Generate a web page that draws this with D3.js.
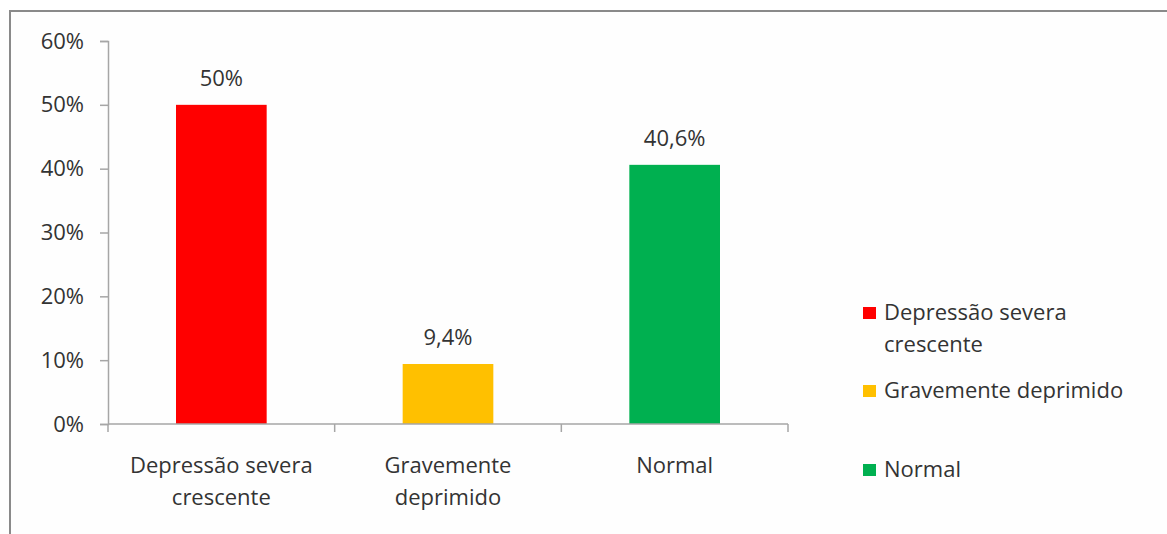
<!DOCTYPE html>
<html>
<head>
<meta charset="utf-8">
<script src="https://cdn.jsdelivr.net/npm/d3@7"></script>
<style>
  html, body { margin: 0; padding: 0; background: #fff; }
  svg { display: block; font-family: "Open Sans", Lato, sans-serif; }
</style>
</head>
<body>
<svg id="chart" width="1167" height="534"></svg>
<script>
const categories = ["Depressão severa crescente", "Gravemente deprimido", "Normal"];
const categoryLines = [["Depressão severa", "crescente"], ["Gravemente", "deprimido"], ["Normal"]];
const legendLines = [["Depressão severa", "crescente"], ["Gravemente deprimido"], ["Normal"]];
const values = [50, 9.4, 40.6];
const valueLabels = ["50%", "9,4%", "40,6%"];
const colors = ["#ff0000", "#ffc000", "#00b050"];
const yTicks = [0, 10, 20, 30, 40, 50, 60];

const svg = d3.select("#chart");
const textColor = "#333333";
const axisColor = "#a6a6a6";
const fontSize = "22px";

// outer frame, running off the right and bottom edges
svg.append("rect")
  .attr("x", 10).attr("y", 11)
  .attr("width", 1200).attr("height", 600)
  .attr("fill", "#fefefe")
  .attr("stroke", "#8a8a8a").attr("stroke-width", 2);

const plot = { left: 108, right: 788, top: 41, bottom: 424 };

const x = d3.scaleBand()
  .domain(categories)
  .range([plot.left, plot.right])
  .paddingInner(0.6).paddingOuter(0.3);

const y = d3.scaleLinear().domain([0, 60]).range([plot.bottom, plot.top]);

// y axis
const yAxis = d3.axisLeft(y)
  .tickValues(yTicks)
  .tickSize(8)
  .tickPadding(16)
  .tickFormat(d => d + "%");
const gy = svg.append("g").attr("transform", `translate(${plot.left},0)`).call(yAxis);
gy.attr("font-family", null).attr("font-size", null);
gy.select(".domain").attr("stroke", axisColor).attr("stroke-width", 1.5);
gy.selectAll(".tick line").attr("stroke", axisColor).attr("stroke-width", 1.5);
gy.selectAll(".tick text")
  .attr("fill", textColor)
  .style("font-size", fontSize);

// bars
svg.append("g").selectAll("rect")
  .data(values)
  .join("rect")
  .attr("x", (d, i) => x(categories[i]))
  .attr("width", x.bandwidth())
  .attr("y", d => y(d))
  .attr("height", d => y(0) - y(d))
  .attr("fill", (d, i) => colors[i]);

// x axis with ticks at category boundaries
const boundaries = d3.range(categories.length + 1).map(i => plot.left + i * (plot.right - plot.left) / categories.length);
const gx = svg.append("g");
gx.append("line")
  .attr("x1", plot.left).attr("x2", plot.right)
  .attr("y1", plot.bottom).attr("y2", plot.bottom)
  .attr("stroke", axisColor).attr("stroke-width", 1.5);
gx.selectAll("line.tick")
  .data(boundaries)
  .join("line")
  .attr("class", "tick")
  .attr("x1", d => d).attr("x2", d => d)
  .attr("y1", plot.bottom).attr("y2", plot.bottom + 8)
  .attr("stroke", axisColor).attr("stroke-width", 1.5);

// category labels
categories.forEach((c, i) => {
  const cx = x(c) + x.bandwidth() / 2;
  const t = gx.append("text")
    .attr("x", cx).attr("y", 473)
    .attr("text-anchor", "middle")
    .attr("fill", textColor)
    .style("font-size", fontSize);
  categoryLines[i].forEach((line, j) => {
    t.append("tspan").attr("x", cx).attr("dy", j === 0 ? 0 : 32).text(line);
  });
});

// value labels
svg.append("g").selectAll("text")
  .data(values)
  .join("text")
  .attr("x", (d, i) => x(categories[i]) + x.bandwidth() / 2)
  .attr("y", d => y(d) - 19)
  .attr("text-anchor", "middle")
  .attr("fill", textColor)
  .style("font-size", fontSize)
  .text((d, i) => valueLabels[i]);

// legend
const legendY = [320, 398, 477];
const legend = svg.append("g");
legendLines.forEach((lines, i) => {
  legend.append("rect")
    .attr("x", 863).attr("y", legendY[i] - 13)
    .attr("width", 13).attr("height", 12)
    .attr("fill", colors[i]);
  const t = legend.append("text")
    .attr("x", 884).attr("y", legendY[i])
    .attr("fill", textColor)
    .style("font-size", fontSize);
  lines.forEach((line, j) => {
    t.append("tspan").attr("x", 884).attr("dy", j === 0 ? 0 : 32).text(line);
  });
});
</script>
</body>
</html>
